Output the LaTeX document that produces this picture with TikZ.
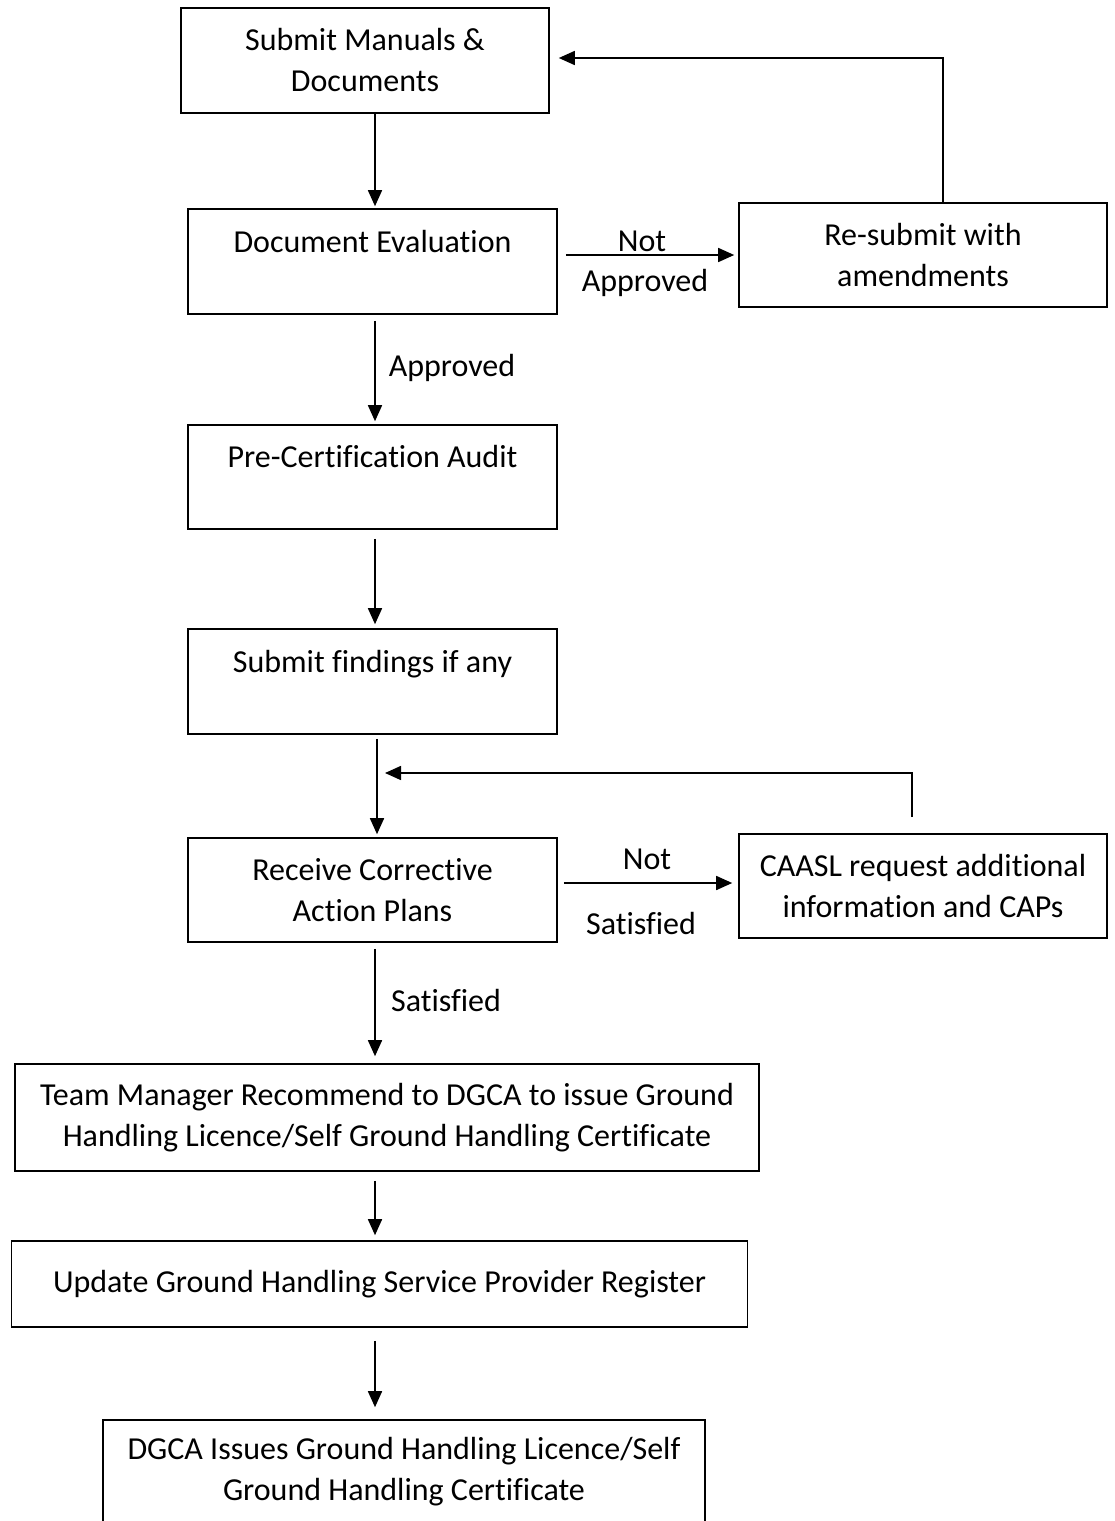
\documentclass[tikz,border=0pt]{standalone}
\usepackage{fontspec}
\setmainfont{Carlito}[Ligatures=CommonOff]
\usetikzlibrary{arrows.meta}
\tikzset{
  box/.style={draw, line width=1.6pt, align=center, inner sep=0pt,
    font=\fontsize{32}{41}\selectfont},
  lbl/.style={inner sep=0pt, font=\fontsize{32}{41}\selectfont},
  arr/.style={line width=1.6pt, -{Triangle[length=16pt,width=14pt]}},
}
\begin{document}
\begin{tikzpicture}[x=1pt,y=-1pt]
\useasboundingbox (0,0) rectangle (1114,1521);
% boxes
\node[box, minimum width=368pt, minimum height=105pt] (sub) at (365,60.5) {Submit Manuals \&\\Documents};
\node[box, minimum width=369pt, minimum height=105pt] (eval) at (372.5,261.5) {Document Evaluation\\\mbox{}};
\node[box, minimum width=368pt, minimum height=104pt] (resub) at (923,255) {Re-submit with\\amendments};
\node[box, minimum width=369pt, minimum height=104pt] (audit) at (372.5,477) {Pre-Certification Audit\\\mbox{}};
\node[box, minimum width=369pt, minimum height=105pt] (find) at (372.5,681.5) {Submit findings if any\\\mbox{}};
\node[box, minimum width=369pt, minimum height=104pt] (cap) at (372.5,890) {Receive Corrective\\Action Plans};
\node[box, minimum width=368pt, minimum height=104pt] (caasl) at (923,886) {CAASL request additional\\information and CAPs};
\node[box, minimum width=744pt, minimum height=107pt] (rec) at (387,1117.5) {Team Manager Recommend to DGCA to issue Ground\\Handling Licence/Self Ground Handling Certificate};
\node[box, minimum width=736pt, minimum height=86pt] (reg) at (379.5,1284) {Update Ground Handling Service Provider Register};
\node[box, minimum width=602pt, minimum height=104pt] (dgca) at (404,1472) {DGCA Issues Ground Handling Licence/Self\\Ground Handling Certificate};
% labels
\node[lbl] (notA) at (642,241) {Not};
\node[lbl] (apprA) at (645,283) {Approved};
\node[lbl] (appr) at (452,368) {Approved};
\node[lbl] (notS) at (647,859) {Not};
\node[lbl] (satN) at (641,923) {Satisfied};
\node[lbl] (sat) at (446,1000) {Satisfied};
\coordinate (back) at (385,773);
% main flow
\draw[arr] ([xshift=10pt]sub.south) -- ([xshift=2.5pt,yshift=2pt]eval.north);
\draw[arr] ([xshift=2.5pt,yshift=-6pt]eval.south) -- ([xshift=2.5pt,yshift=3pt]audit.north);
\draw[arr] ([xshift=2.5pt,yshift=-9pt]audit.south) -- ([xshift=2.5pt,yshift=4pt]find.north);
\draw[arr] ([xshift=4.5pt,yshift=-4pt]find.south) -- ([xshift=4.5pt,yshift=3pt]cap.north);
\draw[arr] ([xshift=2.5pt,yshift=-6pt]cap.south) -- ([xshift=-12pt,yshift=7pt]rec.north);
\draw[arr] ([xshift=-12pt,yshift=-9pt]rec.south) -- ([xshift=-4.5pt,yshift=5pt]reg.north);
\draw[arr] ([xshift=-4.5pt,yshift=-13pt]reg.south) -- ([xshift=-29pt,yshift=12pt]dgca.north);
% side loops
\draw[arr] ([xshift=8pt,yshift=6.5pt]eval.east) -- ([xshift=-4pt]resub.west);
\draw[arr] ([xshift=20pt]resub.north) |- ([xshift=9pt,yshift=2.5pt]sub.east);
\draw[arr] ([xshift=6pt,yshift=7pt]cap.east) -- ([xshift=-6pt,yshift=3pt]caasl.west);
\draw[arr] ([xshift=-11pt,yshift=16pt]caasl.north) |- (back);
\end{tikzpicture}
\end{document}
